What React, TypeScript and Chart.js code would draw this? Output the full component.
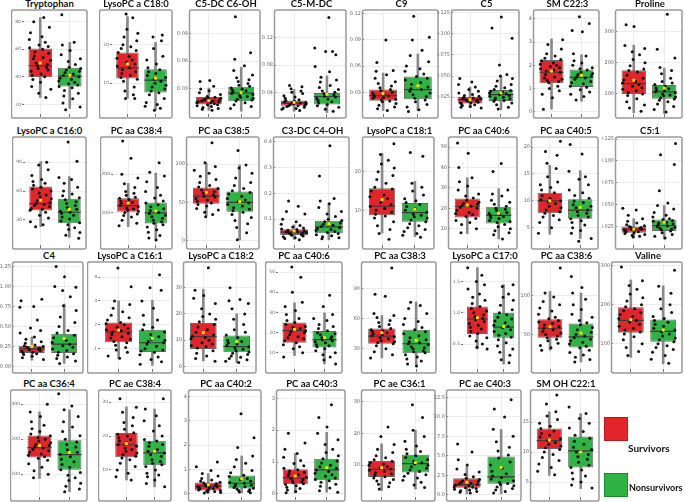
import React, { useEffect, useRef } from 'react';
import { Chart, registerables } from 'chart.js';
Chart.register(...registerables);

// ---------------- data ----------------
const TITLES = ['Tryptophan','LysoPC a C18:0','C5-DC C6-OH','C5-M-DC','C9','C5','SM C22:3','Proline',
'LysoPC a C16:0','PC aa C38:4','PC aa C38:5','C3-DC C4-OH','LysoPC a C18:1','PC aa C40:6','PC aa C40:5','C5:1',
'C4','LysoPC a C16:1','LysoPC a C18:2','PC aa C40:6','PC aa C38:3','LysoPC a C17:0','PC aa C38:6','Valine',
'PC aa C36:4','PC ae C38:4','PC aa C40:2','PC aa C40:3','PC ae C36:1','PC ae C40:3','SM OH C22:1'];

const Y_TICKS = [
['20','40','60','80'],['10','20'],['0.03','0.06','0.09'],['0.04','0.08','0.12'],['0.03','0.06','0.09','0.12'],
['0.025','0.050','0.075','0.100','0.125'],['0','1','2','3','4'],['100','200','300'],
['30','60','90'],['100','200'],['0','50','100'],['0.1','0.2','0.3','0.4'],['10','20'],['10','20','30','40','50'],
['5','10','15','20'],['0.025','0.050','0.075','0.100','0.125'],
['0.00','0.25','0.50','0.75','1.00','1.25'],['1','2','3','4'],['0','10','20','30'],['10','20','30','40','50'],
['30','60','90'],['0.5','1.0','1.5'],['50','100'],['100','200','300'],
['100','200','300'],['10','20','30'],['0','1','2','3','4'],['0','1','2','3'],['10','20','30'],
['0.0','2.5','5.0','7.5','10.0','12.5'],['5','10','15']];

const Y_MIN = [13,2,0.003,0.008,0.005,0.005,-0.1,36, 4,15,-6,0,1,2,1.8,0.004, -0.03,0.15,-1,2,10,0.1,6,35, 35,2,-0.15,-0.1,0,-0.3,2.5];
const Y_MAX = [87,28.5,0.113,0.158,0.122,0.126,4.3,362, 114,292,133,0.41,28.5,54,21.5,0.125, 1.28,4.55,39,54,114,1.78,140,305, 335,33,4.2,3.2,33,13.2,20];

// [lower whisker, q1, median, q3, upper whisker, mean]
const SURV_BOX = [
[25,39.6,48,60.5,83,50],[6.1,11.2,14,18,27.3,15],[0.007,0.0133,0.017,0.0213,0.031,0.0175],[0.012,0.02,0.024,0.028,0.044,0.025],
[0.009,0.0202,0.026,0.033,0.052,0.0285],[0.0125,0.0175,0.022,0.0253,0.037,0.022],[0.11,1.23,1.7,2.23,3.14,1.75],[40,100,133,176,256,144],
[23,39.9,47,64.6,90.5,50.4],[63,102,118,137,176,124],[32,48,58,69.5,101,63],[0.022,0.039,0.05,0.061,0.078,0.054],
[4.1,8.7,11.1,15.7,24.8,12.8],[7.6,15.5,21,24.8,35,21.6],[3.8,7.7,10,11.5,16.6,10],[0.013,0.018,0.022,0.025,0.034,0.022],
[0.08,0.17,0.22,0.26,0.37,0.25],[0.6,1.27,1.7,2.1,3,1.78],[2.1,6.6,11.3,16.5,29.4,12.9],[8.7,15,21,25,34.8,21.6],
[21,35,42.5,50,63,46],[0.42,0.66,0.9,1.1,1.72,0.92],[30,46,58,69.5,105,60],[65,128,160,194,264,162],
[88,148,176,211,278,182],[7,13.7,17.4,20.9,28.6,17.8],[0,0.12,0.3,0.45,0.82,0.35],[0.03,0.3,0.5,0.77,1.27,0.56],
[2,6.3,8.7,11.3,16.7,9.2],[0.1,0.9,1.3,2.1,3.6,1.6],[6.1,10.5,11.9,13.9,16.7,12]];

const NONSURV_BOX = [
[17,33,40.5,46.6,65,41],[3,7.6,10.8,13.6,20.6,11.3],[0.006,0.0168,0.0255,0.0325,0.0535,0.026],[0.01,0.022,0.0337,0.039,0.064,0.037],
[0.009,0.022,0.033,0.048,0.0738,0.0374],[0.01,0.0205,0.028,0.0336,0.05,0.03],[0.45,1.07,1.48,1.82,2.46,1.57],[38,85,107,129,183,119],
[12,26.5,38,52,75,41],[30,71,99,126,203,104],[0,37.5,50,64,99,51],[0.02,0.045,0.07,0.094,0.16,0.082],
[3.2,7,9.4,11.9,17.5,10.3],[5,12.6,16.5,20.8,29.6,17.5],[3,6.7,8.3,10.3,15.6,8.8],[0.011,0.02,0.026,0.033,0.049,0.03],
[0.04,0.17,0.28,0.41,0.78,0.35],[0.3,0.86,1.25,1.8,3.03,1.43],[1.5,5.4,7.5,11.8,20,9.4],[4.5,12.7,16.5,20.8,29.8,17.5],
[14,25.5,35,49,76.4,38.4],[0.18,0.6,0.77,1,1.45,0.78],[15,33.5,47,64,103,52],[48,105,132,162,249,135],
[50,113,156,197,284,162],[5,11.4,15,18.6,28,15.5],[0.02,0.2,0.42,0.74,1.55,0.6],[0.05,0.43,0.75,1.1,1.93,0.82],
[2.5,7.7,10.5,13.3,21,10.8],[0.1,1.4,2.3,4.9,8.4,3.5],[3.9,7.4,10.2,12.6,16.4,10]];

const SURV_PTS = [
[83,80,76,72,69,67,65,63,62,61,60,58,57,55,54,53,52,50,49,48,47,46,45,44,42,41,40,38,36,33,31,28,25],
[28,27,24,23,22,21,20,19.5,19,18.5,18,17,16.5,16,15.5,15,14.5,14,13.5,13,12.5,12,11.5,11,10.5,9,8,7,6,6],
[0.039,0.038,0.033,0.03,0.028,0.026,0.024,0.022,0.021,0.02,0.02,0.019,0.018,0.018,0.017,0.017,0.016,0.016,0.015,0.015,0.014,0.013,0.013,0.012,0.011,0.01,0.009,0.008,0.007],
[0.05,0.048,0.045,0.042,0.04,0.038,0.035,0.033,0.031,0.029,0.028,0.027,0.026,0.025,0.025,0.024,0.023,0.023,0.022,0.021,0.02,0.02,0.019,0.018,0.017,0.016,0.015,0.013],
[0.09,0.064,0.055,0.054,0.05,0.046,0.042,0.04,0.037,0.035,0.033,0.032,0.03,0.029,0.028,0.027,0.026,0.025,0.024,0.023,0.022,0.021,0.02,0.019,0.017,0.015,0.013,0.011,0.009],
[0.047,0.043,0.04,0.037,0.034,0.032,0.03,0.028,0.027,0.026,0.025,0.024,0.023,0.023,0.022,0.022,0.021,0.02,0.02,0.019,0.018,0.018,0.017,0.016,0.015,0.014,0.013,0.012],
[3.1,2.9,2.7,2.5,2.4,2.3,2.25,2.2,2.1,2.05,2,1.95,1.9,1.85,1.8,1.75,1.7,1.6,1.5,1.45,1.4,1.35,1.3,1.25,1.1,1,0.9,0.75,0.6,0.1],
[321,316,255,245,235,225,210,200,190,180,175,170,160,150,145,140,135,130,125,120,115,110,105,100,95,85,75,65,55,45],
[90,87,82,76,72,70,68,66,64,62,60,58,56,54,52,50,48,47,46,45,44,42,41,40,38,35,32,28,25,23],
[287,242,200,190,175,165,155,150,145,140,137,134,130,127,124,121,118,115,112,109,106,103,100,96,92,88,80,72,65],
[128,102,97,92,88,84,80,76,72,70,68,66,64,62,60,58,57,55,53,51,49,47,45,42,40,37,34,31],
[0.17,0.15,0.13,0.12,0.1,0.09,0.08,0.075,0.07,0.066,0.062,0.06,0.057,0.055,0.053,0.051,0.05,0.048,0.046,0.044,0.042,0.04,0.038,0.035,0.032,0.028,0.025,0.02],
[27.3,24.5,23,22,21,20,19,18,17,16,15.5,15,14,13.5,13,12,11.5,11,10.5,10,9.5,9,8.5,8,7,6,5,4,2.5],
[52,47,40,35,33,31,29,27,26,25,24,23,22.5,22,21.5,21,20.5,20,19,18,17.5,17,16,15,14,13,12,10,8],
[21.1,19.2,18.5,17,16,14.5,13.5,13,12.5,12,11.5,11,10.5,10.2,10,9.8,9.5,9,8.7,8.3,8,7.7,7.3,7,6.5,6,5,4],
[0.046,0.044,0.038,0.034,0.031,0.029,0.027,0.026,0.025,0.024,0.024,0.023,0.022,0.022,0.021,0.021,0.02,0.019,0.019,0.018,0.017,0.016,0.015,0.014,0.013],
[0.84,0.82,0.75,0.74,0.58,0.48,0.45,0.42,0.37,0.34,0.31,0.29,0.27,0.26,0.25,0.24,0.23,0.22,0.22,0.21,0.2,0.19,0.18,0.17,0.16,0.15,0.13,0.11,0.09],
[4.38,3.6,3,2.85,2.7,2.55,2.4,2.3,2.2,2.1,2.05,2,1.9,1.85,1.8,1.75,1.7,1.65,1.6,1.5,1.45,1.4,1.3,1.25,1.15,1.05,0.95,0.85,0.7,0.6],
[37.6,29,27,26,24,22,20,19,18,17,16,15,14,13,12,11.5,11,10.5,10,9,8.5,8,7.5,7,6,5,4,3,2],
[52.5,47.5,40,35,33,31,29,27,26,25,24,23,22.5,22,21.5,21,20.5,20,19,18,17.5,17,16,15,14,13,12,10,8],
[110,84,82,65,63,61,58,56,54,52,50,49,48,47,46,45,44,43,42,41,40,38,37,36,35,33,30,27,24,21],
[1.72,1.6,1.5,1.45,1.38,1.3,1.25,1.2,1.15,1.1,1.07,1.03,1,0.97,0.94,0.91,0.89,0.86,0.83,0.8,0.77,0.74,0.7,0.67,0.63,0.6,0.55,0.5,0.45,0.42],
[135,103,98,92,88,84,80,76,72,70,68,66,64,62,60,58,56,54,52,50,48,46,44,42,39,36,33,30],
[297,262,250,240,228,218,210,200,195,190,185,180,175,170,165,160,155,150,145,140,135,130,125,118,110,100,90,80,70],
[300,278,265,250,240,230,222,215,210,205,200,195,190,186,182,178,175,171,167,163,158,154,150,146,140,130,120,110,100,90],
[31,28.5,27,25.5,24,23,22,21,20.5,20,19.5,19,18.5,18,17.5,17,16.5,16,15.5,15,14.5,14,13.5,13,12,11,10,9,8,7],
[1.3,1.1,0.95,0.82,0.72,0.62,0.55,0.5,0.46,0.43,0.4,0.37,0.34,0.31,0.29,0.27,0.25,0.22,0.2,0.18,0.16,0.14,0.12,0.1,0.08,0.06,0.04,0.02],
[1.9,1.6,1.4,1.27,1.15,1.05,0.95,0.88,0.8,0.76,0.72,0.68,0.64,0.6,0.56,0.52,0.49,0.45,0.41,0.38,0.35,0.32,0.29,0.25,0.21,0.17,0.12,0.07,0.03],
[22,19,16.5,15,14,13,12.3,11.7,11.2,10.8,10.4,10,9.6,9.2,8.8,8.4,8,7.6,7.2,6.8,6.4,6,5.5,5,4.5,4,3.2,2.5],
[6.5,5.5,4.5,3.8,3.3,2.9,2.6,2.3,2.1,1.95,1.8,1.7,1.6,1.5,1.4,1.3,1.2,1.1,1,0.95,0.9,0.8,0.7,0.6,0.5,0.4,0.3,0.2],
[19.5,18,16.7,16,15.4,14.8,14.3,13.9,13.5,13.1,12.8,12.5,12.2,11.9,11.6,11.3,11,10.7,10.4,10,9.6,9.1,8.6,8,7.4,6.8,6.2]];

const NONSURV_PTS = [
[85,65,63,59,56,53,51,49,47,46,45,44,43,42,41,40,39,38,37,36,35,34,33,32,30,28,26,24,21,18,16],
[22.5,22,21,19,17,16,15,14,13.5,13,12.5,12,11.5,11,10.5,10,9.5,9,8.5,8,7.5,7,6,5,4.5,4,3.5,3],
[0.108,0.069,0.062,0.055,0.05,0.045,0.042,0.04,0.038,0.036,0.034,0.033,0.031,0.03,0.029,0.028,0.027,0.026,0.025,0.024,0.023,0.022,0.021,0.02,0.019,0.018,0.017,0.015,0.013,0.011,0.009],
[0.15,0.105,0.1,0.1,0.095,0.078,0.07,0.062,0.058,0.055,0.05,0.047,0.044,0.042,0.04,0.038,0.036,0.034,0.033,0.031,0.03,0.028,0.026,0.024,0.022,0.02,0.018,0.015,0.012],
[0.117,0.093,0.09,0.078,0.072,0.065,0.06,0.057,0.054,0.051,0.048,0.046,0.044,0.041,0.039,0.036,0.034,0.033,0.031,0.029,0.027,0.025,0.023,0.021,0.019,0.016,0.013,0.01,0.008],
[0.12,0.107,0.095,0.063,0.052,0.05,0.047,0.044,0.04,0.038,0.036,0.034,0.033,0.032,0.031,0.03,0.029,0.028,0.027,0.026,0.025,0.024,0.023,0.022,0.021,0.02,0.018,0.016,0.013,0.011],
[4.1,3.8,3.5,3.45,2.5,2.4,2.2,2.1,2,1.9,1.85,1.8,1.7,1.65,1.6,1.55,1.5,1.45,1.4,1.3,1.25,1.2,1.1,1.05,0.95,0.85,0.75,0.65,0.5],
[355,243,215,185,175,165,150,140,135,130,125,120,117,113,110,107,104,100,97,94,90,87,84,80,75,68,60,50,42],
[111,91,74,72,68,64,60,57,55,53,51,49,47,45,43,41,39,38,37,35,33,31,29,27,25,22,20,17,14,11],
[230,205,195,180,165,155,145,138,130,125,120,115,110,105,100,97,93,89,85,80,76,72,68,62,55,48,40,33,28],
[118,99,95,88,82,76,72,68,65,63,61,58,55,53,51,49,47,45,43,41,39,37,34,30,26,22,17,10,1],
[0.384,0.267,0.18,0.17,0.16,0.145,0.13,0.12,0.11,0.1,0.095,0.09,0.085,0.08,0.076,0.072,0.068,0.064,0.06,0.056,0.052,0.048,0.044,0.04,0.036,0.032,0.028,0.024],
[25,24,17,16,15,14,13,12.5,12,11.5,11,10.5,10,9.5,9,8.7,8.3,8,7.5,7,6.5,6,5.5,5,4.5,4,3.5,3],
[42,38,29,27,26,24,23,22,21,20,19.5,19,18,17.5,17,16.5,16,15.5,15,14,13.5,13,12,11,10,9,8,7,5],
[20.5,18.7,15.5,14.5,14,13,12,11.5,11,10.5,10,9.7,9.3,9,8.7,8.3,8,7.7,7.3,7,6.7,6.3,6,5.5,5,4.5,4,3,2.5],
[0.12,0.107,0.096,0.066,0.052,0.049,0.045,0.041,0.038,0.036,0.034,0.033,0.032,0.031,0.03,0.029,0.028,0.027,0.026,0.025,0.024,0.023,0.022,0.021,0.02,0.018,0.016,0.014,0.012],
[1.25,1.12,1,0.99,0.95,0.87,0.76,0.7,0.62,0.55,0.5,0.45,0.42,0.39,0.36,0.33,0.3,0.28,0.26,0.24,0.22,0.2,0.18,0.16,0.14,0.12,0.1,0.07,0.04],
[4.1,3.55,3.45,3,2.7,2.4,2.2,2,1.9,1.8,1.7,1.6,1.5,1.4,1.35,1.3,1.25,1.2,1.1,1,0.95,0.9,0.85,0.75,0.65,0.55,0.45,0.35],
[30,25.5,25,24,22,20,18,16,14,13,12,11,10,9.5,9,8.5,8,7.5,7,6.5,6,5.5,5,4.5,4,3.5,3,2.5,2,1.5],
[38.5,33,29,27,26,24,23,22,21,20,19.5,19,18,17.5,17,16.5,16,15.5,15,14,13.5,13,12,11,10,9,8,6.5,4.5],
[76,73,70,65,60,57,54,51,49,47,45,43,41,39,37,36,35,34,32,31,30,28,27,26,24,22,20,18,15,13],
[1.45,1.42,1.3,1.25,1.2,1.12,1.05,1,0.97,0.93,0.9,0.87,0.84,0.8,0.78,0.76,0.73,0.7,0.67,0.64,0.61,0.57,0.52,0.47,0.42,0.37,0.32,0.25,0.2],
[124,110,103,95,88,82,76,72,68,65,62,59,56,53,50,48,46,44,42,40,38,35,33,30,27,24,21,18,15],
[289,248,230,215,200,190,180,170,165,160,155,150,145,140,135,130,125,120,115,110,105,100,95,90,85,78,70,60,50],
[330,295,284,265,250,235,222,210,200,192,185,178,170,163,157,150,143,136,128,120,113,105,97,90,82,74,66,58,50],
[31,28,26,24.5,23,21.5,20,19,18.5,18,17.5,17,16,15.5,15,14.5,14,13,12.5,12,11.5,11,10,9,8.5,8,7,6,5],
[3.3,2.3,1.9,1.55,1.4,1.25,1.1,0.95,0.85,0.75,0.7,0.62,0.56,0.5,0.45,0.42,0.38,0.34,0.3,0.27,0.24,0.21,0.18,0.15,0.12,0.09,0.06,0.03],
[2.8,2.4,2.1,1.9,1.7,1.55,1.4,1.3,1.2,1.1,1.03,0.97,0.9,0.85,0.8,0.75,0.7,0.65,0.6,0.55,0.5,0.45,0.41,0.36,0.3,0.24,0.18,0.1,0.05],
[29,25,21,19,17.5,16,15,14.3,13.6,13,12.4,11.8,11.2,10.8,10.4,10,9.5,9,8.5,8,7.5,7,6.5,6,5.3,4.6,3.8,3],
[12.2,11,10,8.4,7.5,6.8,6.1,5.6,5.1,4.7,4.2,3.8,3.4,3,2.7,2.4,2.2,2,1.8,1.6,1.45,1.3,1.15,1,0.8,0.6,0.4,0.2],
[17.5,16.4,15.6,14.8,14,13.4,12.8,12.3,11.8,11.3,10.8,10.4,10,9.6,9.2,8.8,8.3,7.8,7.4,7,6.5,6,5.5,5,4.5,4]];

const GROUP_LABELS = ['Survivors', 'Nonsurvivors'];

// ---------------- layout / style ----------------
const ROWS = [[10, 117], [137, 248], [262, 372], [390, 500]];
// [row, frame left, frame right, tick labels inside frame]
const FRAMES = [
[0,11,88,1],[0,99,173,1],[0,191,261,0],[0,276,347,0],[0,364,439,0],[0,453,520,0],[0,535,600,0],[0,617,683,0],
[1,12,87,1],[1,100,173,1],[1,188,260,0],[1,275,350,0],[1,364,435,0],[1,450,518,0],[1,533,599,0],[1,617,683,0],
[2,14,84,0],[2,87,173,1],[2,185,257,0],[2,265,343,1],[2,363,437,0],[2,450,520,1],[2,533,600,0],[2,613,683,0],
[3,10,88,1],[3,98,172,1],[3,190,262,0],[3,278,346,0],[3,363,436,0],[3,448,522,0],[3,532,600,0]];

const JIT = [0.12,-0.31,0.27,-0.05,0.35,-0.22,0.03,-0.36,0.19,-0.14,0.31,-0.27,0.08,-0.02,0.24,-0.33,0.15,-0.18,0.37,
-0.09,0.06,-0.25,0.29,-0.12,0.21,-0.37,0.01,-0.2,0.33,-0.07,0.17,-0.29,0.1,-0.16,0.26,-0.04,0.36,-0.23];

const RED = '#e2252b';
const GREEN = '#2fb344';
const HALF = 0.4;
const TITLE_FONT = 'Lato, "Open Sans", sans-serif';
const AXIS_IN = 12;
const AXIS_OUT = 15;

function Panel({ i }: { i: number }) {
  const ref = useRef<HTMLCanvasElement>(null);
  const [row, fl, fr, inside] = FRAMES[i];
  const [ft, fb] = ROWS[row];
  const left = inside ? fl : fl - AXIS_OUT;
  const top = ft - 2;
  const w = fr + 2 - left;
  const h = fb + 2 - top;

  useEffect(() => {
    const canvas = ref.current;
    if (!canvas) return;
    const s = SURV_BOX[i];
    const n = NONSURV_BOX[i];
    const tickVals = Y_TICKS[i].map(Number);
    const pts = (arr: number[], g: number) =>
      arr.map((v, k) => ({ x: g + JIT[(k * 5 + i * 3 + g * 11) % JIT.length], y: v }));

    const framePlugin = {
      id: 'frame',
      afterDraw(c: any) {
        const a = c.chartArea;
        const g = c.ctx;
        g.save();
        g.strokeStyle = '#9a9a9a';
        g.lineWidth = 1.5;
        const x0 = inside ? a.left - AXIS_IN - 0.5 : a.left - 1.5;
        const y0 = a.top - 2;
        g.beginPath();
        if (g.roundRect) g.roundRect(x0, y0, a.right + 1 - x0, a.bottom + 4 - y0, 2);
        else g.rect(x0, y0, a.right + 1 - x0, a.bottom + 4 - y0);
        g.stroke();
        g.restore();
      },
    };

    const chart = new Chart(canvas, {
      type: 'bar',
      data: {
        datasets: [
          {
            type: 'bar', label: 'whisker',
            data: [{ x: 0, y: [s[0], s[4]] }, { x: 1, y: [n[0], n[4]] }] as any,
            backgroundColor: '#8a8a8a', barThickness: 2, grouped: false, order: 4,
          },
          {
            type: 'bar', label: 'box',
            data: [{ x: 0, y: [s[1], s[3]] }, { x: 1, y: [n[1], n[3]] }] as any,
            backgroundColor: [RED, GREEN], borderColor: '#6a6a6a', borderWidth: 1, borderSkipped: false,
            barPercentage: HALF * 2, categoryPercentage: 1, grouped: false, order: 3,
          },
          {
            type: 'line', label: 'median',
            data: [{ x: -HALF, y: s[2] }, { x: HALF, y: s[2] }, { x: 0.5, y: null }, { x: 1 - HALF, y: n[2] }, { x: 1 + HALF, y: n[2] }] as any,
            borderColor: '#3c3c3c', borderWidth: 1.2, pointRadius: 0, spanGaps: false, order: 2,
          },
          {
            type: 'scatter', label: 'points',
            data: [...pts(SURV_PTS[i], 0), ...pts(NONSURV_PTS[i], 1)],
            backgroundColor: '#111', borderWidth: 0, pointRadius: 1.5, order: 1,
          },
          {
            type: 'scatter', label: 'mean',
            data: [{ x: 0, y: s[5] }, { x: 1, y: n[5] }],
            pointStyle: 'rect', pointRadius: 2, backgroundColor: '#ffe000', borderWidth: 0, order: 0,
          },
        ] as any,
      },
      options: {
        animation: false,
        responsive: false,
        events: [],
        layout: { padding: { top: 4, right: 2, bottom: 1, left: inside ? 1 : 0 } },
        plugins: { legend: { display: false }, tooltip: { enabled: false }, title: { display: false } },
        scales: {
          x: {
            type: 'linear', min: -0.55, max: 1.55, offset: false,
            afterBuildTicks: (sc: any) => { sc.ticks = [{ value: 0 }, { value: 1 }]; },
            afterFit: (sc: any) => { sc.height = 4; },
            ticks: { callback: () => '', autoSkip: false },
            grid: { color: '#ececec', tickColor: '#777', tickLength: 3, offset: false },
            border: { display: false },
          },
          y: {
            type: 'linear', min: Y_MIN[i], max: Y_MAX[i],
            afterBuildTicks: (sc: any) => { sc.ticks = tickVals.map((v) => ({ value: v })); },
            afterFit: (sc: any) => { sc.width = inside ? AXIS_IN : AXIS_OUT; },
            ticks: {
              autoSkip: false, padding: 1, color: '#666',
              font: { size: inside ? 4.5 : 5, family: '"DejaVu Sans", sans-serif' },
              callback: (_v: any, idx: number) => Y_TICKS[i][idx],
            },
            grid: { color: '#ececec', tickColor: '#777', tickLength: 2 },
            border: { display: false },
          },
        },
      } as any,
      plugins: [framePlugin],
    });
    return () => chart.destroy();
  }, [i]);

  const cx = (fl + fr) / 2;
  return (
    <>
      <div style={{ position: 'absolute', left: cx - 60, top: ft - 12, width: 120, textAlign: 'center',
        font: `bold 9.5px ${TITLE_FONT}`, color: '#111', lineHeight: '11px', whiteSpace: 'nowrap' }}>
        {TITLES[i]}
      </div>
      <canvas ref={ref} width={w} height={h}
        style={{ position: 'absolute', left, top, width: w, height: h }} />
    </>
  );
}

export default function App() {
  return (
    <div style={{ position: 'fixed', left: 0, top: 0, width: 685, height: 502, background: '#fff', overflow: 'hidden' }}>
      {TITLES.map((_, i) => <Panel key={i} i={i} />)}
      <div style={{ position: 'absolute', left: 604, top: 417, width: 24, height: 24, background: RED, boxSizing: 'border-box', border: '1px solid #b51c20' }} />
      <div style={{ position: 'absolute', left: 628, top: 442, font: `bold 10px ${TITLE_FONT}`, color: '#111', whiteSpace: 'nowrap' }}>{GROUP_LABELS[0]}</div>
      <div style={{ position: 'absolute', left: 604, top: 473, width: 24, height: 24, background: GREEN, boxSizing: 'border-box', border: '1px solid #1f8a30' }} />
      <div style={{ position: 'absolute', left: 629, top: 482, font: `bold 9px ${TITLE_FONT}`, color: '#111', whiteSpace: 'nowrap' }}>{GROUP_LABELS[1]}</div>
    </div>
  );
}
